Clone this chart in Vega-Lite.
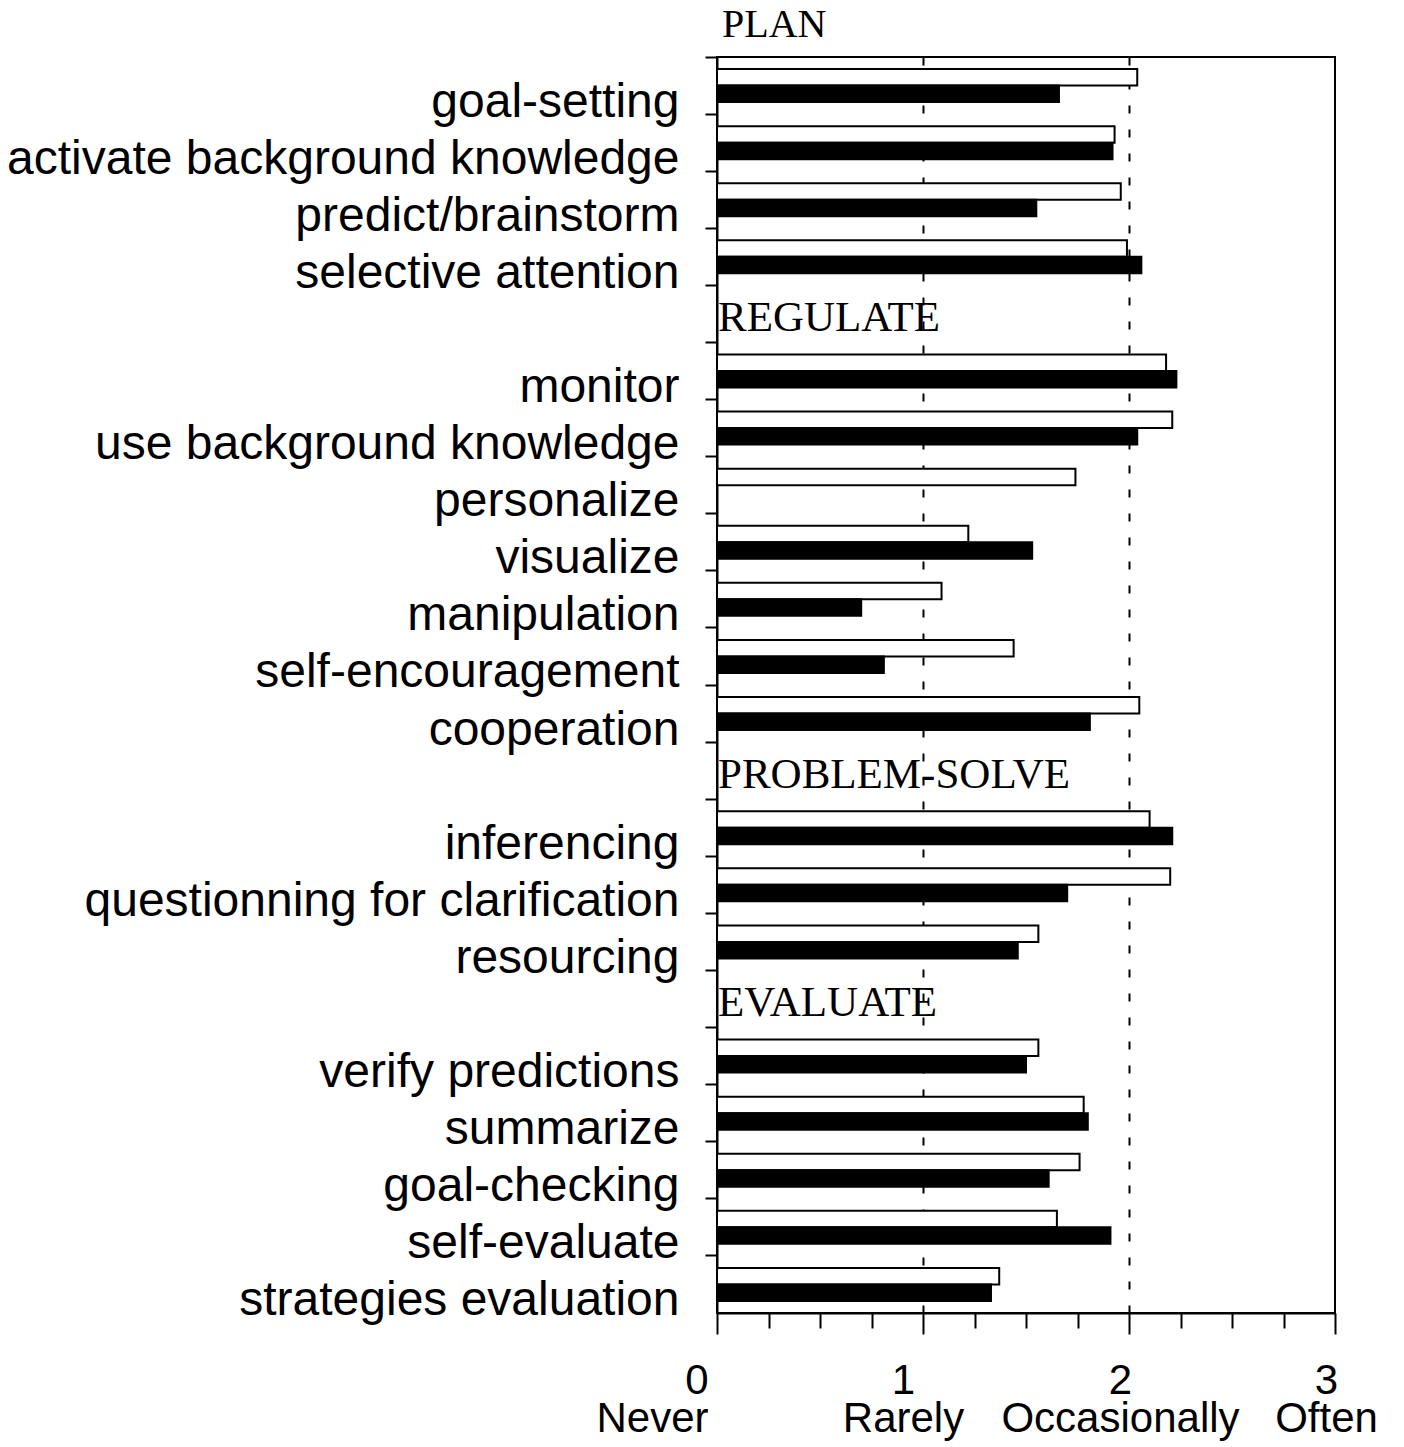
{
  "$schema": "https://vega.github.io/schema/vega-lite/v6.json",
  "width": 618,
  "height": 1256,
  "autosize": "none",
  "padding": {"left": 717, "top": 57, "right": 69, "bottom": 134},
  "background": "white",
  "config": {
    "view": {"stroke": "black", "strokeWidth": 2},
    "axis": {"domainColor": "black", "domainWidth": 2, "tickColor": "black", "tickWidth": 2, "labelColor": "black"}
  },
  "datasets": {
    "bars": [
      {"strategy": "goal-setting", "group": "A", "value": 2.04},
      {"strategy": "goal-setting", "group": "B", "value": 1.66},
      {"strategy": "activate background knowledge", "group": "A", "value": 1.93},
      {"strategy": "activate background knowledge", "group": "B", "value": 1.92},
      {"strategy": "predict/brainstorm", "group": "A", "value": 1.96},
      {"strategy": "predict/brainstorm", "group": "B", "value": 1.55},
      {"strategy": "selective attention", "group": "A", "value": 1.99},
      {"strategy": "selective attention", "group": "B", "value": 2.06},
      {"strategy": "monitor", "group": "A", "value": 2.18},
      {"strategy": "monitor", "group": "B", "value": 2.23},
      {"strategy": "use background knowledge", "group": "A", "value": 2.21},
      {"strategy": "use background knowledge", "group": "B", "value": 2.04},
      {"strategy": "personalize", "group": "A", "value": 1.74},
      {"strategy": "visualize", "group": "A", "value": 1.22},
      {"strategy": "visualize", "group": "B", "value": 1.53},
      {"strategy": "manipulation", "group": "A", "value": 1.09},
      {"strategy": "manipulation", "group": "B", "value": 0.70},
      {"strategy": "self-encouragement", "group": "A", "value": 1.44},
      {"strategy": "self-encouragement", "group": "B", "value": 0.81},
      {"strategy": "cooperation", "group": "A", "value": 2.05},
      {"strategy": "cooperation", "group": "B", "value": 1.81},
      {"strategy": "inferencing", "group": "A", "value": 2.10},
      {"strategy": "inferencing", "group": "B", "value": 2.21},
      {"strategy": "questionning for clarification", "group": "A", "value": 2.20},
      {"strategy": "questionning for clarification", "group": "B", "value": 1.70},
      {"strategy": "resourcing", "group": "A", "value": 1.56},
      {"strategy": "resourcing", "group": "B", "value": 1.46},
      {"strategy": "verify predictions", "group": "A", "value": 1.56},
      {"strategy": "verify predictions", "group": "B", "value": 1.50},
      {"strategy": "summarize", "group": "A", "value": 1.78},
      {"strategy": "summarize", "group": "B", "value": 1.80},
      {"strategy": "goal-checking", "group": "A", "value": 1.76},
      {"strategy": "goal-checking", "group": "B", "value": 1.61},
      {"strategy": "self-evaluate", "group": "A", "value": 1.65},
      {"strategy": "self-evaluate", "group": "B", "value": 1.91},
      {"strategy": "strategies evaluation", "group": "A", "value": 1.37},
      {"strategy": "strategies evaluation", "group": "B", "value": 1.33}
    ],
    "headers": [
      {"strategy": "REGULATE", "label": "REGULATE"},
      {"strategy": "PROBLEM-SOLVE", "label": "PROBLEM-SOLVE"},
      {"strategy": "EVALUATE", "label": "EVALUATE"}
    ],
    "top": [
      {"strategy": "goal-setting", "label": "PLAN"}
    ]
  },
  "layer": [
    {
      "data": {"name": "bars"},
      "mark": {"type": "bar", "strokeWidth": 2, "stroke": "black"},
      "encoding": {
        "y": {
          "field": "strategy",
          "type": "nominal",
          "sort": null,
          "scale": {
            "domain": ["goal-setting", "activate background knowledge", "predict/brainstorm", "selective attention", "REGULATE", "monitor", "use background knowledge", "personalize", "visualize", "manipulation", "self-encouragement", "cooperation", "PROBLEM-SOLVE", "inferencing", "questionning for clarification", "resourcing", "EVALUATE", "verify predictions", "summarize", "goal-checking", "self-evaluate", "strategies evaluation"],
            "paddingInner": 0,
            "paddingOuter": 0
          },
          "axis": {
            "title": null,
            "bandPosition": 0,
            "tickSize": 12,
            "labelFont": "Liberation Sans",
            "labelFontSize": 48,
            "labelPadding": 26,
            "labelOffset": 17,
            "labelLimit": 0,
            "labelBaseline": "middle",
            "labelExpr": "indexof(['REGULATE','PROBLEM-SOLVE','EVALUATE'], datum.value) >= 0 ? '' : datum.label",
            "grid": false
          }
        },
        "yOffset": {
          "field": "group",
          "type": "nominal",
          "scale": {"domain": ["A", "B"], "paddingInner": 0, "paddingOuter": 0.73}
        },
        "x": {
          "field": "value",
          "type": "quantitative",
          "scale": {"domain": [0, 3], "nice": false},
          "axis": {
            "title": null,
            "values": [0, 0.25, 0.5, 0.75, 1, 1.25, 1.5, 1.75, 2, 2.25, 2.5, 2.75, 3],
            "grid": true,
            "gridColor": "black",
            "gridWidth": 2,
            "gridDash": [8, 16],
            "gridOpacity": {"condition": {"test": "datum.value == 1 || datum.value == 2", "value": 1}, "value": 0},
            "tickSize": {"condition": {"test": "datum.value % 1 == 0", "value": 21}, "value": 15},
            "labelExpr": "datum.value == 0 ? ['0', 'Never'] : datum.value == 1 ? ['1', 'Rarely'] : datum.value == 2 ? ['2', 'Occasionally'] : datum.value == 3 ? ['3', 'Often'] : ''",
            "labelAlign": {"condition": {"test": "datum.value == 0", "value": "right"}, "value": "center"},
            "labelOffset": {"condition": {"test": "datum.value == 1", "value": -20}, "value": -9},
            "labelFont": "Liberation Sans",
            "labelFontSize": 42,
            "labelLineHeight": 38,
            "labelPadding": 26,
            "labelLimit": 0,
            "labelFlush": false,
            "labelOverlap": false,
            "labelBound": false
          }
        },
        "fill": {"field": "group", "type": "nominal", "scale": {"domain": ["A", "B"], "range": ["white", "black"]}, "legend": null}
      }
    },
    {
      "data": {"name": "headers"},
      "mark": {"type": "text", "align": "left", "baseline": "middle", "font": "Liberation Serif", "fontSize": 43, "color": "black", "dx": 1, "dy": 4},
      "encoding": {
        "y": {"field": "strategy", "type": "nominal", "sort": null},
        "x": {"datum": 0, "type": "quantitative"},
        "text": {"field": "label"}
      }
    },
    {
      "data": {"name": "top"},
      "mark": {"type": "text", "align": "left", "baseline": "middle", "font": "Liberation Serif", "fontSize": 40, "color": "black", "dx": 5, "dy": -61},
      "encoding": {
        "y": {"field": "strategy", "type": "nominal", "sort": null},
        "x": {"datum": 0, "type": "quantitative"},
        "text": {"field": "label"}
      }
    }
  ]
}
